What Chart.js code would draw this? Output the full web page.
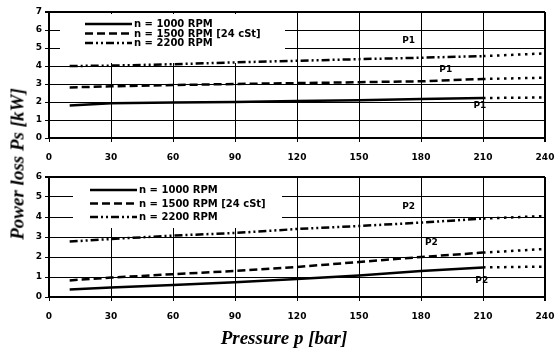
<!DOCTYPE html>
<html><head><meta charset="utf-8">
<script src="https://cdn.jsdelivr.net/npm/chart.js@4"></script>
<style>
html,body{margin:0;padding:0;background:#fff;}
body{width:555px;height:349px;position:relative;overflow:hidden;}
#c1{position:absolute;left:0;top:0;}
#c2{position:absolute;left:0;top:170px;}
.t{position:absolute;font-family:"Liberation Serif",serif;font-weight:bold;font-style:italic;font-size:19px;color:#000;white-space:nowrap;line-height:1;}
#xt{left:284px;top:337px;transform:translate(-50%,-50%);}
#yt{left:17px;top:164px;transform:translate(-50%,-50%) rotate(-90deg);}
</style></head><body>
<canvas id="c1" width="555" height="170"></canvas>
<canvas id="c2" width="555" height="179"></canvas>
<div class="t" id="yt">Power loss Ps [kW]</div>
<div class="t" id="xt">Pressure p [bar]</div>
<script>
// ---- data ----
const pressure = [10, 30, 60, 90, 120, 150, 180, 210];
const pressureExt = [210, 240];
const seriesNames = ['n = 1000 RPM', 'n = 1500 RPM [24 cSt]', 'n = 2200 RPM'];
const xTicks = [0, 30, 60, 90, 120, 150, 180, 210, 240];
const topYTicks = [0, 1, 2, 3, 4, 5, 6, 7];
const botYTicks = [0, 1, 2, 3, 4, 5, 6];

const top1000 = [1.81, 1.93, 1.97, 2.0, 2.05, 2.1, 2.17, 2.22];
const top1500 = [2.81, 2.87, 2.94, 3.0, 3.05, 3.1, 3.15, 3.28];
const top2200 = [4.0, 4.02, 4.1, 4.2, 4.29, 4.38, 4.46, 4.55];
const top1000Ext = [2.22, 2.25];
const top1500Ext = [3.28, 3.35];
const top2200Ext = [4.55, 4.7];

const bot1000 = [0.37, 0.47, 0.6, 0.74, 0.9, 1.08, 1.3, 1.48];
const bot1500 = [0.83, 0.97, 1.14, 1.3, 1.5, 1.75, 2.0, 2.22];
const bot2200 = [2.77, 2.9, 3.07, 3.2, 3.4, 3.55, 3.72, 3.92];
const bot1000Ext = [1.48, 1.52];
const bot1500Ext = [2.22, 2.4];
const bot2200Ext = [3.92, 4.05];

const topMarkText = ['P1', 'P1', 'P1'];
const topMarkX = [174, 192, 208.5];
const topMarkY = [5.41, 3.81, 1.8];
const botMarkText = ['P2', 'P2', 'P2'];
const botMarkX = [174, 185, 209.4];
const botMarkY = [4.5, 2.7, 0.8];

// ---- styles ----
const dashes = [[], [8, 4], [8, 3, 2, 3, 2, 3]];
const dotDash = [2.5, 4.5];
const LW = 2.5;
const tickFont = {family: '"DejaVu Sans", sans-serif', size: 9, weight: 'bold'};

function pts(xs, ys) { return xs.map((x, i) => ({x: x, y: ys[i]})); }

const boxLegend = {
  id: 'boxLegend',
  beforeDatasetsDraw(chart, args, o) {
    const ctx = chart.ctx;
    ctx.save();
    ctx.fillStyle = '#fff';
    ctx.fillRect(o.box[0], o.box[1], o.box[2], o.box[3]);
    o.rows.forEach((y, i) => {
      const ds = chart.data.datasets[i];
      ctx.beginPath();
      ctx.setLineDash(ds.borderDash || []);
      ctx.lineWidth = ds.borderWidth;
      ctx.strokeStyle = '#000';
      ctx.moveTo(o.lineX[0], y); ctx.lineTo(o.lineX[1], y); ctx.stroke();
      ctx.setLineDash([]);
      ctx.fillStyle = '#000';
      ctx.font = 'bold 10px "DejaVu Sans", sans-serif';
      ctx.textBaseline = 'middle';
      ctx.textAlign = 'left';
      ctx.fillText(ds.label, o.textX, y + 0.5);
    });
    ctx.restore();
  }
};

const marks = {
  id: 'marks',
  afterDatasetsDraw(chart, args, o) {
    const ctx = chart.ctx, xs = chart.scales.x, ys = chart.scales.y;
    ctx.save();
    ctx.fillStyle = '#000';
    ctx.font = 'bold 9px "DejaVu Sans", sans-serif';
    ctx.textAlign = 'center';
    ctx.textBaseline = 'middle';
    o.text.forEach((t, i) => ctx.fillText(t, xs.getPixelForValue(o.x[i]), ys.getPixelForValue(o.y[i])));
    ctx.restore();
  }
};

function makeChart(id, main, ext, yTicks, markOpts, legendOpts, padTop, xAxisH) {
  const datasets = [];
  main.forEach((ys, i) => datasets.push({
    label: seriesNames[i], data: pts(pressure, ys), borderColor: '#000', borderWidth: LW,
    borderDash: dashes[i], pointRadius: 0, tension: 0, fill: false, borderCapStyle: 'butt'
  }));
  ext.forEach((ys, i) => datasets.push({
    label: seriesNames[i] + ' (ext)', data: pts(pressureExt, ys), borderColor: '#000', borderWidth: LW,
    borderDash: dotDash, pointRadius: 0, tension: 0, fill: false, borderCapStyle: 'butt'
  }));
  const yMax = yTicks[yTicks.length - 1];
  return new Chart(document.getElementById(id), {
    type: 'line',
    data: {datasets: datasets},
    options: {
      responsive: false, animation: false, devicePixelRatio: 1,
      layout: {padding: {top: padTop, right: 10, left: 0, bottom: 0}},
      plugins: {legend: {display: false}, tooltip: {enabled: false},
        boxLegend: legendOpts, marks: markOpts},
      scales: {
        x: {
          type: 'linear', min: 0, max: 240,
          afterBuildTicks: s => { s.ticks = xTicks.map(v => ({value: v})); },
          afterFit: s => { s.height = xAxisH; s.paddingLeft = 0; s.paddingRight = 0; },
          ticks: {color: '#000', font: tickFont, padding: 10, maxRotation: 0, autoSkip: false},
          grid: {color: '#000', lineWidth: c => (c.tick && c.tick.value === 240) ? 2 : 1, tickLength: 4, tickColor: '#000'},
          border: {color: '#000', width: 2}
        },
        y: {
          type: 'linear', min: 0, max: yMax,
          afterBuildTicks: s => { s.ticks = yTicks.map(v => ({value: v})); },
          afterFit: s => { s.width = 49; s.paddingTop = 0; s.paddingBottom = 0; },
          ticks: {color: '#000', font: tickFont, padding: 3},
          grid: {color: '#000', lineWidth: c => (c.tick && c.tick.value === yMax) ? 2 : 1, tickLength: 4, tickColor: '#000'},
          border: {color: '#000', width: 2}
        }
      }
    },
    plugins: [boxLegend, marks]
  });
}

makeChart('c1', [top1000, top1500, top2200], [top1000Ext, top1500Ext, top2200Ext], topYTicks,
  {text: topMarkText, x: topMarkX, y: topMarkY},
  {box: [60, 14, 225, 49], rows: [24, 33.5, 43], lineX: [85, 132], textX: 134}, 12, 32);

makeChart('c2', [bot1000, bot1500, bot2200], [bot1000Ext, bot1500Ext, bot2200Ext], botYTicks,
  {text: botMarkText, x: botMarkX, y: botMarkY},
  {box: [73, 8, 209, 50], rows: [20, 33.5, 47], lineX: [90, 137], textX: 139}, 7, 52);
</script>
</body></html>
